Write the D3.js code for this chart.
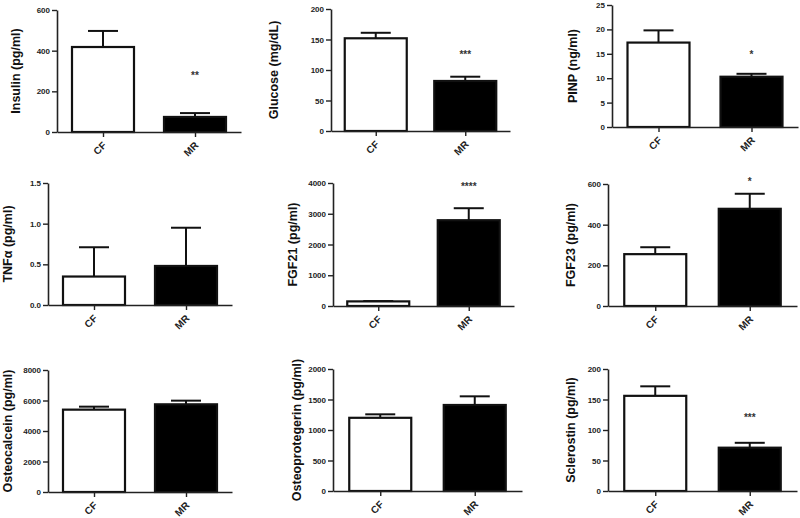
<!DOCTYPE html>
<html>
<head>
<meta charset="utf-8">
<script src="https://cdn.jsdelivr.net/npm/d3@7"></script>
<style>
  body { margin: 0; background: #fff; }
  svg { display: block; font-family: "Liberation Sans", Arial, sans-serif; }
</style>
</head>
<body>
<div id="chart"></div>
<script>
// data
const groups = ['CF', 'MR'];
const yLabels = ['Insulin  (pg/ml)', 'Glucose (mg/dL)', 'PINP (ng/ml)',
  'TNFα (pg/ml)', 'FGF21 (pg/ml)', 'FGF23  (pg/ml)',
  'Osteocalcein  (pg/ml)', 'Osteoprotegerin (pg/ml)', 'Sclerostin (pg/ml)'];
const means = [[418, 74], [152, 82], [17.3, 10.3], [0.35, 0.48], [150, 2790],
  [255, 478], [5400, 5750], [1200, 1410], [156, 71]];
const sems = [[79, 19], [9, 7], [2.5, 0.6], [0.36, 0.47], [10, 390],
  [34, 74], [196, 240], [57, 142], [15.6, 8]];
const yMax = [600, 200, 25, 1.5, 4000, 600, 8000, 2000, 200];
const yStep = [200, 50, 5, 0.5, 1000, 200, 2000, 500, 50];
const sigText = ['**', '***', '*', '', '****', '*', '', '', '***'];
const sigAt = [290, 128, 15.2, null, 3935, 620, null, null, 123];

// panel placement
const layout = [
  { x0: 57, x1: 241, yTop: 10, yBot: 132, lx: 16 },
  { x0: 331, x1: 510, yTop: 9, yBot: 131, lx: 274 },
  { x0: 612, x1: 798, yTop: 5, yBot: 127, lx: 573 },
  { x0: 48, x1: 232, yTop: 183, yBot: 305, lx: 8 },
  { x0: 333, x1: 514, yTop: 183, yBot: 306, lx: 293 },
  { x0: 608, x1: 797, yTop: 184, yBot: 306, lx: 571 },
  { x0: 48, x1: 232, yTop: 370, yBot: 492, lx: 8 },
  { x0: 333, x1: 522, yTop: 369, yBot: 491, lx: 297 },
  { x0: 608, x1: 797, yTop: 369, yBot: 491, lx: 571 }
];

const w = 800, h = 518;
const barW = 62, capW = 30;
const ink = '#111';

const svg = d3.select('#chart').append('svg')
  .attr('width', w).attr('height', h);

layout.forEach((p, i) => {
  const g = svg.append('g');

  const x = d3.scalePoint().domain(groups).range([p.x0, p.x1]).padding(0.5);
  const y = d3.scaleLinear().domain([0, yMax[i]]).range([p.yBot, p.yTop]);

  const vals = groups.map((k, j) => ({ k, m: means[i][j], e: sems[i][j] }));

  // error bars (upper only)
  g.selectAll('.err').data(vals).enter().append('line')
    .attr('class', 'err')
    .attr('x1', d => x(d.k)).attr('x2', d => x(d.k))
    .attr('y1', d => y(d.m)).attr('y2', d => y(d.m + d.e))
    .attr('stroke', ink).attr('stroke-width', 2);
  g.selectAll('.cap').data(vals).enter().append('line')
    .attr('class', 'cap')
    .attr('x1', d => x(d.k) - capW / 2).attr('x2', d => x(d.k) + capW / 2)
    .attr('y1', d => y(d.m + d.e)).attr('y2', d => y(d.m + d.e))
    .attr('stroke', ink).attr('stroke-width', 2);

  g.selectAll('.bar').data(vals).enter().append('rect')
    .attr('class', 'bar')
    .attr('x', d => x(d.k) - barW / 2)
    .attr('y', d => y(d.m))
    .attr('width', barW)
    .attr('height', d => y(0) - y(d.m))
    .attr('fill', (d, j) => j === 0 ? '#fff' : '#000')
    .attr('stroke', ink).attr('stroke-width', 2.2);

  // axes
  const yAxis = d3.axisLeft(y)
    .tickValues(d3.range(0, yMax[i] + yStep[i] / 2, yStep[i]))
    .tickFormat(yMax[i] < 5 ? d3.format('.1f') : d3.format('d'))
    .tickSize(5).tickPadding(2).tickSizeOuter(0);
  const ya = g.append('g').attr('transform', `translate(${p.x0},0)`).call(yAxis);

  const xAxis = d3.axisBottom(x).tickSize(5).tickSizeOuter(0).tickFormat('');
  const xa = g.append('g').attr('transform', `translate(0,${p.yBot})`).call(xAxis);

  [ya, xa].forEach(a => {
    a.select('.domain').attr('stroke', '#222').attr('stroke-width', 1.6);
    a.selectAll('.tick line').attr('stroke', '#222').attr('stroke-width', 1.4);
  });
  ya.selectAll('.tick text')
    .attr('font-size', 8).attr('font-weight', 'bold').attr('fill', '#222')
    .attr('font-family', '"Liberation Sans", Arial, sans-serif');

  // rotated group labels
  const lab = g.selectAll('.grp').data(groups).enter().append('g')
    .attr('class', 'grp')
    .attr('transform', d => `translate(${x(d) + 4},${p.yBot + 14})`);
  lab.append('text')
    .attr('transform', 'rotate(-45)')
    .attr('text-anchor', 'end')
    .attr('font-size', 10).attr('font-weight', 'bold').attr('fill', '#222')
    .text(d => d);

  // y title
  g.append('text')
    .attr('transform', `translate(${p.lx},${(p.yTop + p.yBot) / 2}) rotate(-90)`)
    .attr('text-anchor', 'middle')
    .attr('dy', '0.35em')
    .attr('font-size', 12.5).attr('font-weight', 'bold').attr('fill', '#111')
    .text(yLabels[i]);

  // significance
  if (sigText[i]) {
    g.append('text')
      .attr('x', x('MR'))
      .attr('y', y(sigAt[i]))
      .attr('dy', '0.55em')
      .attr('text-anchor', 'middle')
      .attr('font-size', 10).attr('font-weight', 'bold').attr('fill', '#333')
      .text(sigText[i]);
  }
});
</script>
</body>
</html>
